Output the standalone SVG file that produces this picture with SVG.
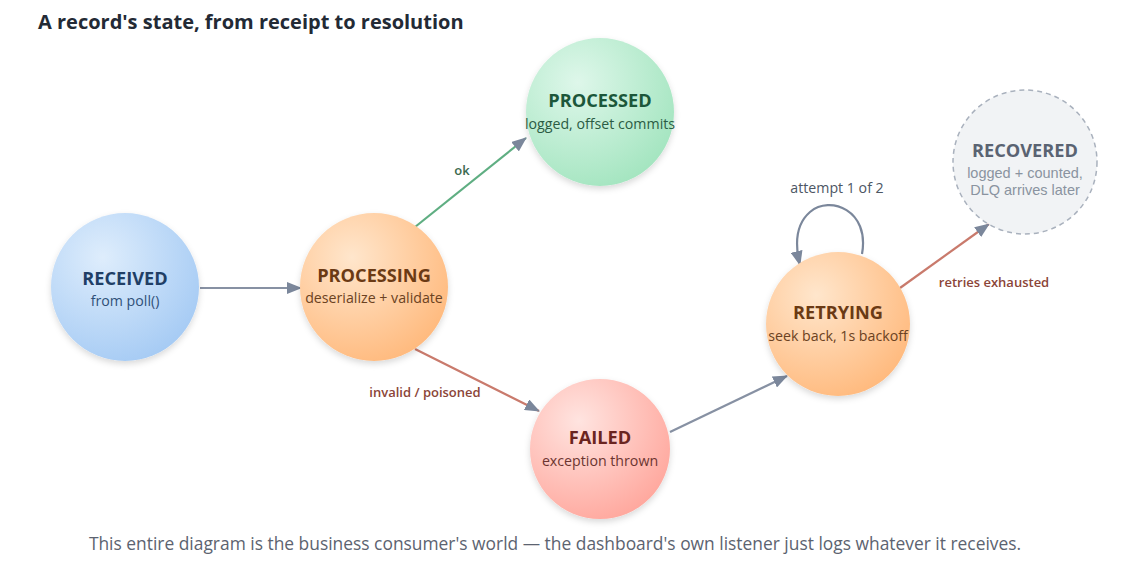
<svg xmlns="http://www.w3.org/2000/svg" width="1125" height="575" viewBox="0 0 1125 575">
<style>
.title{font-family:"Open Sans","Noto Sans",sans-serif;font-weight:700;font-size:20px;fill:#232a35}
.nt{font-family:"Open Sans","Noto Sans",sans-serif;font-weight:700;font-size:18.2px;text-anchor:middle}
.ns{font-family:"Open Sans","Noto Sans",sans-serif;font-size:14.2px;text-anchor:middle}
.ns2{font-family:"Liberation Sans",Arial,sans-serif;font-size:14.5px;text-anchor:middle}
.el{font-family:"Open Sans","Noto Sans",sans-serif;font-weight:600;font-size:13px}
.foot{font-family:"Open Sans","Noto Sans",sans-serif;font-size:17.4px;fill:#5c6370;text-anchor:middle}
.edge{fill:none;stroke-width:2.2}
</style>
<defs>
<radialGradient id="gBlue" cx="0.35" cy="0.3" r="0.75"><stop offset="0" stop-color="#deedfc"/><stop offset="1" stop-color="#a6cbf4"/></radialGradient>
<radialGradient id="gOrange" cx="0.35" cy="0.3" r="0.75"><stop offset="0" stop-color="#ffe6cc"/><stop offset="1" stop-color="#ffba7e"/></radialGradient>
<radialGradient id="gGreen" cx="0.35" cy="0.3" r="0.75"><stop offset="0" stop-color="#def7ea"/><stop offset="1" stop-color="#a4e5c0"/></radialGradient>
<radialGradient id="gRed" cx="0.35" cy="0.3" r="0.75"><stop offset="0" stop-color="#ffe4e0"/><stop offset="1" stop-color="#ffa89e"/></radialGradient>
<filter id="sh" x="-30%" y="-30%" width="160%" height="160%"><feDropShadow dx="0" dy="3" stdDeviation="3" flood-color="#000" flood-opacity="0.15"/></filter>
<marker id="ah" viewBox="0 0 15 12" refX="14" refY="6" markerWidth="15" markerHeight="12" markerUnits="userSpaceOnUse" orient="auto"><path d="M0,0 L15,6 L0,12 z" fill="#7b879b"/></marker>
</defs>
<rect width="1125" height="575" fill="#ffffff"/>
<text class="title" x="38" y="29">A record's state, from receipt to resolution</text>

<g id="connectors">
<line class="edge" x1="200" y1="288" x2="301" y2="288" stroke="#8791a3" marker-end="url(#ah)"/>
<line class="edge" x1="415" y1="227" x2="526" y2="138" stroke="#5fae82" marker-end="url(#ah)"/>
<line class="edge" x1="415" y1="349" x2="539" y2="411" stroke="#c97a6c" marker-end="url(#ah)"/>
<line class="edge" x1="670" y1="432" x2="787" y2="376" stroke="#8791a3" marker-end="url(#ah)"/>
<line class="edge" x1="900" y1="288" x2="989" y2="224" stroke="#c97a6c" marker-end="url(#ah)"/>
<path class="edge" d="M862,254 C870,210 830,195 810,212 C795,225 795,245 800,265" stroke="#7b879b" marker-end="url(#ah)"/>
<text class="el" x="462" y="175" fill="#3b6a4f" text-anchor="middle">ok</text>
<text class="el" x="425" y="397" fill="#8b4538" text-anchor="middle">invalid / poisoned</text>
<text class="el" x="994" y="287" fill="#8b4538" text-anchor="middle">retries exhausted</text>
<text class="ns" x="837" y="193" fill="#4d5664">attempt 1 of 2</text>
</g>

<g id="received">
<circle cx="125" cy="287" r="74" fill="url(#gBlue)" filter="url(#sh)"/>
<text class="nt" x="125" y="285" fill="#1f3f66">RECEIVED</text>
<text class="ns" x="125" y="306" fill="#2f5078">from poll()</text>
</g>
<g id="processing">
<circle cx="374" cy="287" r="74" fill="url(#gOrange)" filter="url(#sh)"/>
<text class="nt" x="374" y="282" fill="#6b3a14">PROCESSING</text>
<text class="ns" x="374" y="303" fill="#6b4222">deserialize + validate</text>
</g>
<g id="processed">
<circle cx="600" cy="112" r="74" fill="url(#gGreen)" filter="url(#sh)"/>
<text class="nt" x="600" y="107" fill="#1c573a">PROCESSED</text>
<text class="ns" x="600" y="129" fill="#2b5c44">logged, offset commits</text>
</g>
<g id="failed">
<circle cx="600" cy="449" r="70" fill="url(#gRed)" filter="url(#sh)"/>
<text class="nt" x="600" y="444" fill="#6b2520">FAILED</text>
<text class="ns" x="600" y="466" fill="#6b3530">exception thrown</text>
</g>
<g id="retrying">
<circle cx="838" cy="324" r="72" fill="url(#gOrange)" filter="url(#sh)"/>
<text class="nt" x="838" y="319" fill="#6b3a14">RETRYING</text>
<text class="ns" x="838" y="341" fill="#6b4222">seek back, 1s backoff</text>
</g>
<g id="recovered">
<circle cx="1025" cy="162" r="72" fill="#f1f3f5" stroke="#a9b1bd" stroke-width="1.5" stroke-dasharray="5 4"/>
<text class="nt" x="1025" y="157" fill="#5a6372">RECOVERED</text>
<text class="ns2" x="1025" y="178" fill="#8a93a0">logged + counted,</text>
<text class="ns2" x="1025" y="194.5" fill="#8a93a0">DLQ arrives later</text>
</g>

<text class="foot" x="555" y="550">This entire diagram is the business consumer's world — the dashboard's own listener just logs whatever it receives.</text>
</svg>
